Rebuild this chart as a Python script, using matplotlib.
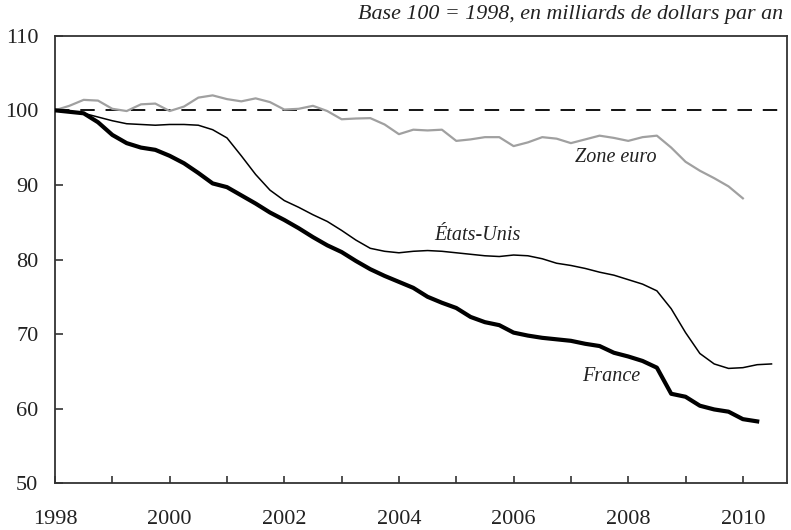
import numpy as np
import matplotlib
matplotlib.use("Agg")
import matplotlib.pyplot as plt

# Quarterly data, base 100 = 1998
france = [100.0, 99.8, 99.6, 98.4, 96.7, 95.6, 95.0, 94.7, 93.9, 92.9, 91.6, 90.2,
          89.7, 88.6, 87.5, 86.3, 85.3, 84.2, 83.0, 81.9, 81.0, 79.8, 78.7, 77.8,
          77.0, 76.2, 75.0, 74.2, 73.5, 72.3, 71.6, 71.2, 70.2, 69.8, 69.5, 69.3,
          69.1, 68.7, 68.4, 67.5, 67.0, 66.4, 65.5, 62.0, 61.6, 60.4, 59.9, 59.6,
          58.6, 58.3]
etats_unis = [100.0, 99.9, 99.6, 99.1, 98.6, 98.2, 98.1, 98.0, 98.1, 98.1, 98.0, 97.4,
              96.3, 93.9, 91.4, 89.3, 87.9, 87.0, 86.0, 85.1, 83.9, 82.6, 81.5, 81.1,
              80.9, 81.1, 81.2, 81.1, 80.9, 80.7, 80.5, 80.4, 80.6, 80.5, 80.1, 79.5,
              79.2, 78.8, 78.3, 77.9, 77.3, 76.7, 75.8, 73.4, 70.2, 67.4, 66.0, 65.4,
              65.5, 65.9, 66.0]
zone_euro = [100.0, 100.6, 101.4, 101.3, 100.2, 99.9, 100.8, 100.9, 99.9, 100.5, 101.7, 102.0,
             101.5, 101.2, 101.6, 101.1, 100.1, 100.2, 100.6, 99.9, 98.8, 98.9, 98.95, 98.1,
             96.8, 97.4, 97.3, 97.4, 95.9, 96.1, 96.4, 96.4, 95.2, 95.7, 96.4, 96.2,
             95.6, 96.1, 96.6, 96.3, 95.9, 96.4, 96.6, 95.0, 93.1, 91.9, 90.9, 89.8,
             88.2]
start_year = 1998
baseline = 100
year_ticks = [1998, 2000, 2002, 2004, 2006, 2008, 2010]
y_ticks = [50, 60, 70, 80, 90, 100, 110]
title = "Base 100 = 1998, en milliards de dollars par an"

def quarters(series):
    return start_year + np.arange(len(series)) * 0.25

plt.rcParams['font.family'] = ['Liberation Serif', 'DejaVu Serif']

fig = plt.figure(figsize=(7.91, 5.30), dpi=100)
ax = fig.add_axes([55/791, (530-483.3)/530, (787-55)/791, (483.3-35.7)/530])

ax.axhline(baseline, color='black', lw=1.3, dashes=(8, 6), zorder=1)
ax.plot(quarters(zone_euro), zone_euro, color='#a0a0a0', lw=1.6, zorder=2)
ax.plot(quarters(etats_unis), etats_unis, color='black', lw=1.1, zorder=3)
ax.plot(quarters(france), france, color='black', lw=3.0, zorder=4)

ax.set_xlim(1998, 2010.77)
ax.set_ylim(50, 110)
ax.set_xticks(np.arange(1998, 2011, 1))
ax.set_xticklabels([str(y) if y in year_ticks else '' for y in range(1998, 2011)])
ax.set_yticks(y_ticks)
ax.set_yticklabels([str(v) for v in y_ticks])
ax.tick_params(axis='x', direction='in', length=5, width=1.2, pad=19, labelsize=16,
               colors='#333333', labelcolor='#222222')
ax.tick_params(axis='y', direction='in', length=6, width=1.2, pad=12, labelsize=16,
               colors='#333333', labelcolor='#222222')
for s in ax.spines.values():
    s.set_color('#333333')
    s.set_linewidth(1.3)

ax.text(2007.79, 93.7, "Zone euro", style='italic', fontsize=14.5, ha='center', va='center', color='#222222')
ax.text(2005.37, 83.25, "États-Unis", style='italic', fontsize=14.5, ha='center', va='center', color='#222222')
ax.text(2007.7, 64.3, "France", style='italic', fontsize=14.5, ha='center', va='center', color='#222222')

fig.text(783/791, 1 - 14/530, title, style='italic', fontsize=15.8, ha='right', va='center', color='#222222')

fig.savefig("out.png", dpi=100)
